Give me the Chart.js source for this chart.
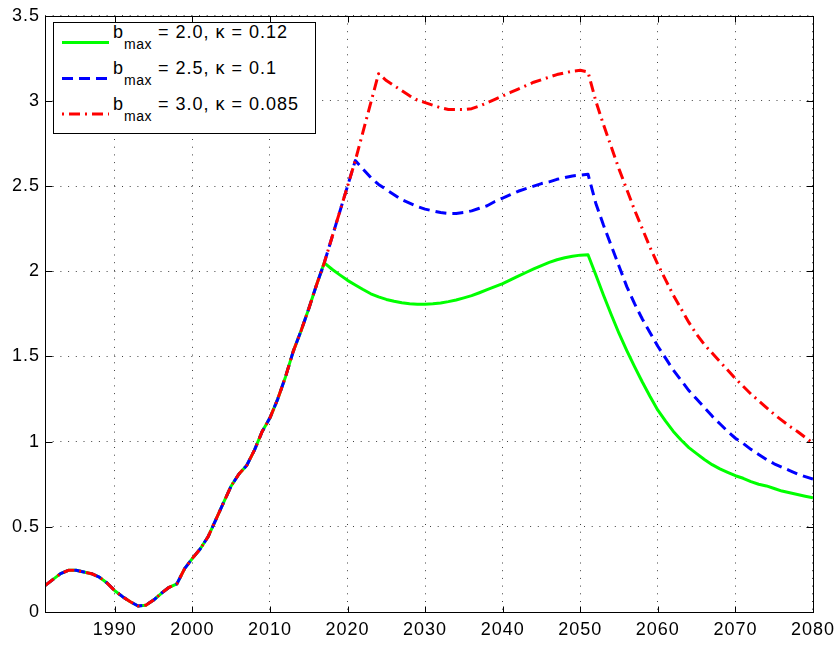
<!DOCTYPE html>
<html>
<head>
<meta charset="utf-8">
<script src="https://cdn.jsdelivr.net/npm/chart.js@4.4.1/dist/chart.umd.min.js"></script>
<style>
  body { margin: 0; background: #fff; }
  #wrap { position: relative; width: 840px; height: 648px; }
  #legenda {
    position: absolute; left: 53px; top: 22px; width: 261px; height: 110px;
    border: 1px solid #000; background: #fff;
    font-family: 'Liberation Sans', Arial, Helvetica, sans-serif;
  }
  #legenda svg { position: absolute; left: 0; top: 0; }
  .linha {
    position: absolute; left: 59px; font-size: 18px; line-height: 18px;
    letter-spacing: 1px; white-space: nowrap; color: #000;
  }
  .linha sub { font-size: 14px; vertical-align: baseline; position: relative; top: 11px; letter-spacing: 0.5px; }
</style>
</head>
<body>
<div id="wrap">
  <canvas id="grafico" width="840" height="648"></canvas>
  <div id="legenda">
    <svg width="60" height="110">
      <line x1="8" y1="19.5" x2="55" y2="19.5" stroke="#00ff00" stroke-width="3"/>
      <line x1="8" y1="55.5" x2="55" y2="55.5" stroke="#0000ff" stroke-width="3" stroke-dasharray="11 6"/>
      <line x1="8" y1="91" x2="55" y2="91" stroke="#ff0000" stroke-width="3" stroke-dasharray="2 5 11 5"/>
    </svg>
    <div class="linha" style="top:0px">b<sub>max</sub> = 2.0, κ = 0.12</div>
    <div class="linha" style="top:36px">b<sub>max</sub> = 2.5, κ = 0.1</div>
    <div class="linha" style="top:72px">b<sub>max</sub> = 3.0, κ = 0.085</div>
  </div>
</div>
<script>
// Anos: histórico começa em 1981, projeções começam em 2018
const anoInicial = 1981;

// Histórico comum às três curvas (1981-2017)
const historico = [
  0.155, 0.19, 0.225, 0.245, 0.245, 0.235, 0.225, 0.205, 0.17, 0.125,
  0.09, 0.06, 0.035, 0.04, 0.07, 0.11, 0.145, 0.165, 0.255, 0.315,
  0.37, 0.44, 0.54, 0.64, 0.74, 0.81, 0.86, 0.95, 1.06, 1.14,
  1.25, 1.38, 1.53, 1.65, 1.78, 1.92, 2.05
];

// Projeções 2018-2080
const verde = [
  2.012, 1.979, 1.947, 1.92, 1.893, 1.868, 1.85, 1.835, 1.824, 1.815,
  1.809, 1.806, 1.806, 1.809, 1.814, 1.822, 1.832, 1.844, 1.857, 1.874,
  1.892, 1.91, 1.928, 1.95, 1.972, 1.993, 2.014, 2.034, 2.052, 2.068,
  2.08, 2.089, 2.095, 2.097, 1.98, 1.86, 1.745, 1.635, 1.535, 1.44,
  1.35, 1.265, 1.185, 1.12, 1.06, 1.01, 0.965, 0.93, 0.895, 0.865,
  0.84, 0.82, 0.80, 0.785, 0.765, 0.75, 0.74, 0.725, 0.71, 0.70,
  0.69, 0.68, 0.67
];
const azul = [
  2.2, 2.35, 2.5, 2.65, 2.6, 2.55, 2.51, 2.48, 2.45, 2.42,
  2.40, 2.38, 2.365, 2.355, 2.345, 2.34, 2.34, 2.345, 2.355, 2.37,
  2.385, 2.41, 2.43, 2.45, 2.47, 2.485, 2.50, 2.515, 2.525, 2.54,
  2.55, 2.56, 2.565, 2.57, 2.40, 2.27, 2.15, 2.03, 1.91, 1.81,
  1.72, 1.64, 1.56, 1.49, 1.42, 1.36, 1.30, 1.25, 1.20, 1.15,
  1.105, 1.06, 1.02, 0.99, 0.955, 0.925, 0.895, 0.87, 0.85, 0.83,
  0.81, 0.795, 0.78
];
const vermelho = [
  2.2, 2.35, 2.5, 2.65, 2.82, 2.99, 3.16, 3.12, 3.09, 3.06,
  3.03, 3.005, 2.99, 2.975, 2.96, 2.95, 2.95, 2.95, 2.955, 2.97,
  2.99, 3.01, 3.03, 3.05, 3.07, 3.09, 3.11, 3.125, 3.14, 3.155,
  3.165, 3.175, 3.18, 3.17, 3.0, 2.86, 2.73, 2.60, 2.48, 2.36,
  2.25, 2.14, 2.04, 1.95, 1.86, 1.78, 1.70, 1.63, 1.57, 1.52,
  1.47, 1.42, 1.37, 1.325, 1.28, 1.24, 1.20, 1.16, 1.125, 1.09,
  1.06, 1.025, 0.99
];

const ticksX = [1990, 2000, 2010, 2020, 2030, 2040, 2050, 2060, 2070, 2080];
const ticksY = [0, 0.5, 1, 1.5, 2, 2.5, 3, 3.5];

const fonte = "'Liberation Sans', Arial, Helvetica, sans-serif";

// junta histórico + projeção em pontos {x, y}
function montarSerie(projecao) {
  return historico.concat(projecao).map((v, i) => ({ x: anoInicial + i, y: v }));
}

// Moldura preta com marcas de escala para dentro (estilo MATLAB)
const moldura = {
  id: 'moldura',
  beforeDraw(chart) {
    chart.ctx.letterSpacing = '1px';
  },
  afterDraw(chart) {
    const ctx = chart.ctx;
    const a = chart.chartArea;
    const l = Math.round(a.left) + 0.5, r = Math.round(a.right) + 0.5;
    const t = Math.round(a.top) + 0.5, b = Math.round(a.bottom) + 0.5;
    ctx.save();
    ctx.setLineDash([]);
    ctx.strokeStyle = '#000';
    ctx.lineWidth = 1;
    ctx.strokeRect(l, t, r - l, b - t);
    ctx.beginPath();
    ticksX.forEach(v => {
      const px = Math.round(chart.scales.x.getPixelForValue(v)) + 0.5;
      ctx.moveTo(px, b); ctx.lineTo(px, b - 6);
      ctx.moveTo(px, t); ctx.lineTo(px, t + 6);
    });
    ticksY.forEach(v => {
      const py = Math.round(chart.scales.y.getPixelForValue(v)) + 0.5;
      ctx.moveTo(l, py); ctx.lineTo(l + 7, py);
      ctx.moveTo(r, py); ctx.lineTo(r - 7, py);
    });
    ctx.stroke();
    ctx.restore();
  }
};

const ctx = document.getElementById('grafico').getContext('2d');
const meuGrafico = new Chart(ctx, {
  type: 'line',
  data: {
    datasets: [
      {
        label: 'bmax = 2.0, κ = 0.12',
        data: montarSerie(verde),
        borderColor: '#00ff00',
        borderWidth: 3,
        order: 3
      },
      {
        label: 'bmax = 2.5, κ = 0.1',
        data: montarSerie(azul),
        borderColor: '#0000ff',
        borderWidth: 3,
        borderDash: [11, 6],
        order: 2
      },
      {
        label: 'bmax = 3.0, κ = 0.085',
        data: montarSerie(vermelho),
        borderColor: '#ff0000',
        borderWidth: 3,
        borderDash: [11, 5, 2, 5],
        order: 1
      }
    ]
  },
  options: {
    responsive: false,
    animation: false,
    layout: { padding: { top: 13, right: 27, left: 0, bottom: 0 } },
    elements: { point: { radius: 0 }, line: { tension: 0, borderJoinStyle: 'round' } },
    plugins: { legend: { display: false }, tooltip: { enabled: false } },
    scales: {
      x: {
        type: 'linear',
        min: 1981,
        max: 2080,
        afterBuildTicks: s => { s.ticks = ticksX.map(v => ({ value: v })); },
        afterFit: s => { s.height = 36; },
        grid: { color: 'rgba(0,0,0,0.75)', lineWidth: 1, drawTicks: false },
        border: { display: false, dash: [1, 6.7] },
        ticks: {
          padding: 7, color: '#000', maxRotation: 0,
          font: { family: fonte, size: 18 },
          callback: v => String(v)
        }
      },
      y: {
        min: 0,
        max: 3.5,
        afterBuildTicks: s => { s.ticks = ticksY.map(v => ({ value: v })); },
        afterFit: s => { s.width = 45; },
        grid: { color: 'rgba(0,0,0,0.75)', lineWidth: 1, drawTicks: false },
        border: { display: false, dash: [1, 6.7] },
        ticks: {
          padding: 5, color: '#000',
          font: { family: fonte, size: 18 },
          callback: v => String(v)
        }
      }
    }
  },
  plugins: [moldura]
});
</script>
</body>
</html>
